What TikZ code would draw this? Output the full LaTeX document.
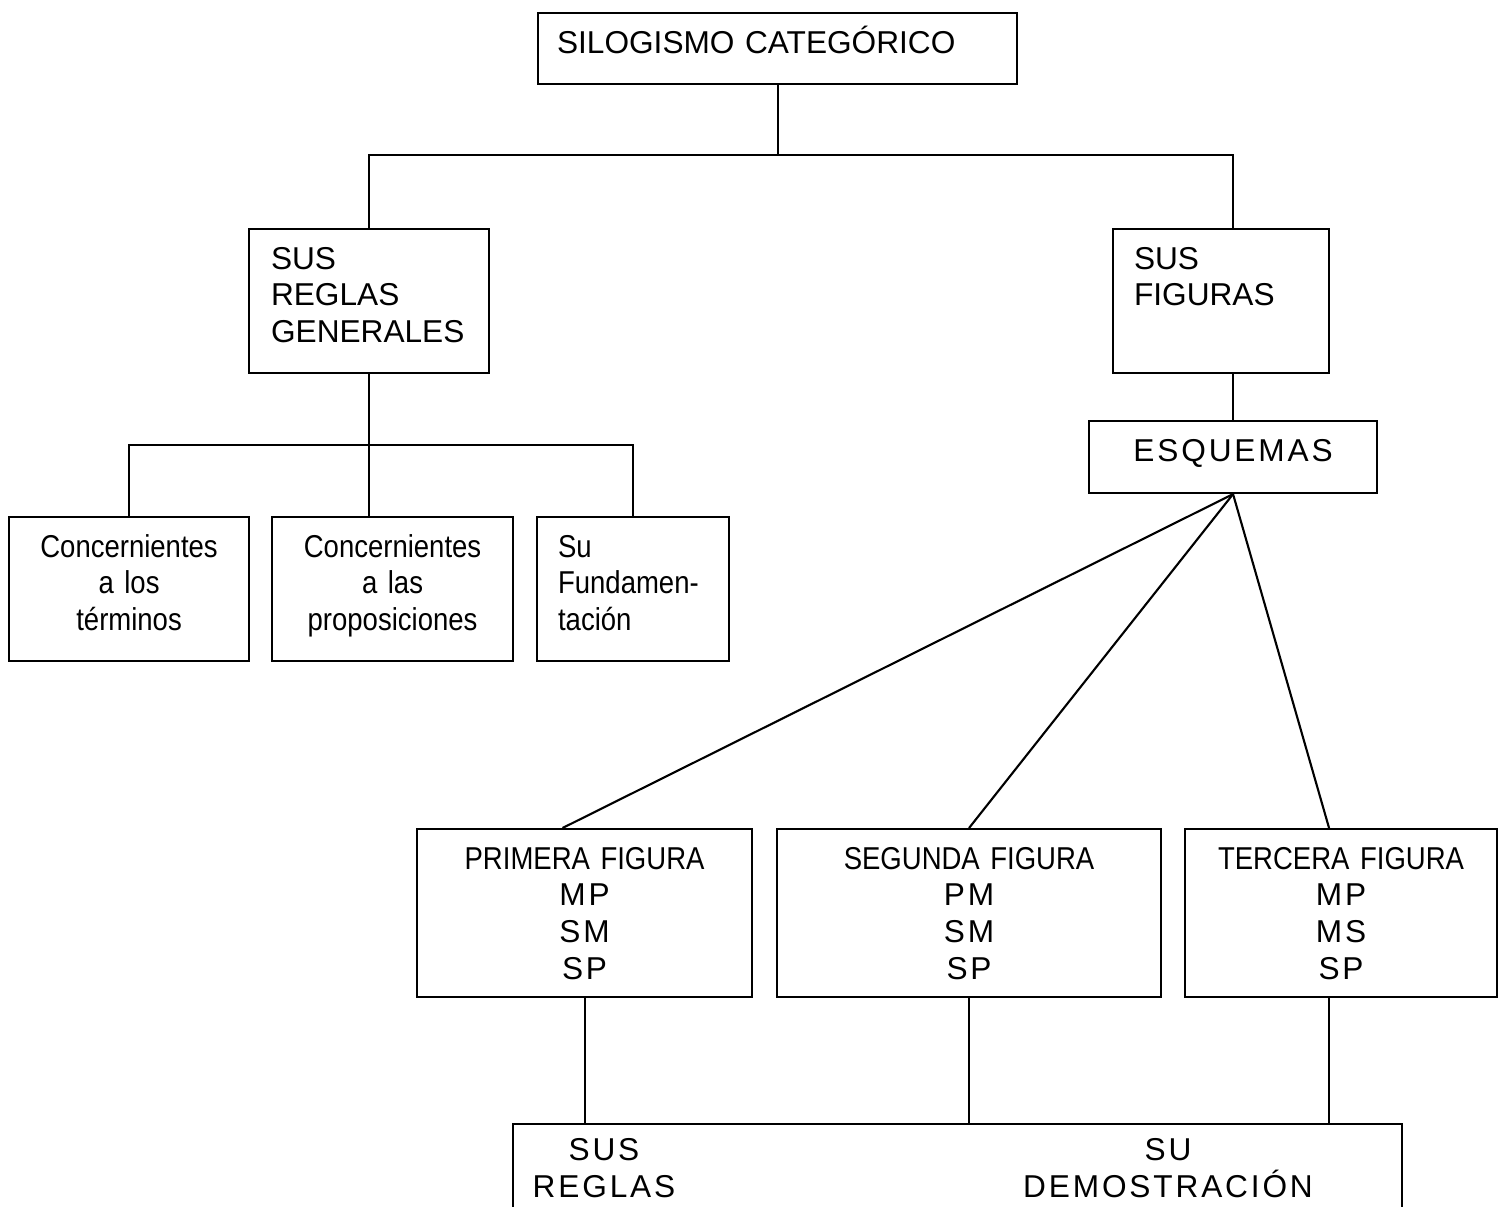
\documentclass[tikz,border=0pt]{standalone}
\usepackage{fontspec}
\setmainfont{Liberation Sans}
\newfontfamily\narrowfont{Liberation Sans}[FakeStretch=0.87,WordSpace=0.6]
\newfontfamily\spacedfont{Liberation Sans}[LetterSpace=9]
\usetikzlibrary{calc}

\newlength\pix
\setlength\pix{0.02cm}

\tikzset{
  box/.style={draw, line width=1.2pt, anchor=north west, inner ysep=0pt,
    text height=40\pix},
  conn/.style={draw, line width=1.2pt},
}

\begin{document}
\begin{tikzpicture}[x=0.02cm,y=-0.02cm,font=\fontsize{18}{21}\selectfont]

    \useasboundingbox (0,0) rectangle (1502,1207);
    \clip (0,0) rectangle (1502,1207);

    % Nodes

    \node[box, inner xsep=19\pix, text width=441\pix, text depth=31\pix, align=left]
      (silog) at (537,12) {SILOGISMO CATEGÓRICO}; %
    \node[box, inner xsep=22\pix, text width=196\pix, text depth=104\pix, align=left]
      (reglas) at (248,228) {SUS\\REGLAS\\GENERALES}; %
    \node[box, inner xsep=21\pix, text width=174\pix, text depth=104\pix, align=left]
      (figuras) at (1112,228) {SUS\\FIGURAS}; %
    \node[box, inner xsep=10\pix, text width=268\pix, text depth=32\pix, align=center]
      (esq) at (1088,420) {\spacedfont ESQUEMAS}; %

    % Rules
    \node[box, inner xsep=8\pix, text width=224\pix, text depth=104\pix, align=center]
      (ct) at (8,516) {\narrowfont Concernientes\\a los\\términos}; %
    \node[box, inner xsep=8\pix, text width=225\pix, text depth=104\pix, align=center]
      (cp) at (271,516) {\narrowfont Concernientes\\a las\\proposiciones}; %
    \node[box, inner xsep=21\pix, text width=150\pix, text depth=104\pix, align=left]
      (fd) at (536,516) {\narrowfont Su\\Fundamen-\\tación}; %

    % Figures
    \node[box, inner xsep=8\pix, text width=319\pix, text depth=128\pix, align=center]
      (prim) at (416,828)
      {{\narrowfont PRIMERA FIGURA}\\{\spacedfont MP}\\{\spacedfont SM}\\{\spacedfont SP}}; %
    \node[box, inner xsep=8\pix, text width=368\pix, text depth=128\pix, align=center]
      (seg) at (776,828)
      {{\narrowfont SEGUNDA FIGURA}\\{\spacedfont PM}\\{\spacedfont SM}\\{\spacedfont SP}}; %
    \node[box, inner xsep=8\pix, text width=296\pix, text depth=128\pix, align=center]
      (terc) at (1184,828)
      {{\narrowfont TERCERA FIGURA}\\{\spacedfont MP}\\{\spacedfont MS}\\{\spacedfont SP}}; %

    % Bottom box (cut off by the page)
    \node[box, inner sep=0pt, minimum width=889\pix, minimum height=200\pix]
      (demo) at (512,1123) {}; %
    \node[anchor=north, inner sep=0pt, text width=200\pix, text height=37\pix, align=center]
      (demo-l) at (604,1123) {\spacedfont SUS\\REGLAS}; %
    \node[anchor=north, inner sep=0pt, text width=340\pix, text height=37\pix, align=center]
      (demo-r) at (1168,1123) {\spacedfont SU\\DEMOSTRACIÓN}; %

    % Junctions
    \coordinate (top-j) at (776,155); %
    \coordinate (reg-j) at (369,445); %

    % Connectors
    \draw[conn] (silog.south) -- (silog.south |- top-j); %
    \draw[conn] (reglas.north) |- (esq.north |- top-j) -- (esq.north |- figuras.north); %
    \draw[conn] (figuras.south -| esq.north) -- (esq.north); %

    \draw[conn] (reglas.south) -- (reglas.south |- cp.north); %
    \draw[conn] (ct.north) |- (fd.north |- reg-j) -- (fd.north); %

    \draw[conn] (esq.south) -- ($(prim.north)+(-22,0)$); %
    \draw[conn] (esq.south) -- (seg.north); %
    \draw[conn] (esq.south) -- ($(terc.north)+(-12,0)$); %

    \draw[conn] (prim.south) -- (prim.south |- demo.north); %
    \draw[conn] (seg.south) -- (seg.south |- demo.north); %
    \draw[conn] ($(terc.south)+(-12,0)$) -- ($(terc.south |- demo.north)+(-12,0)$); %

\end{tikzpicture}
\end{document}
